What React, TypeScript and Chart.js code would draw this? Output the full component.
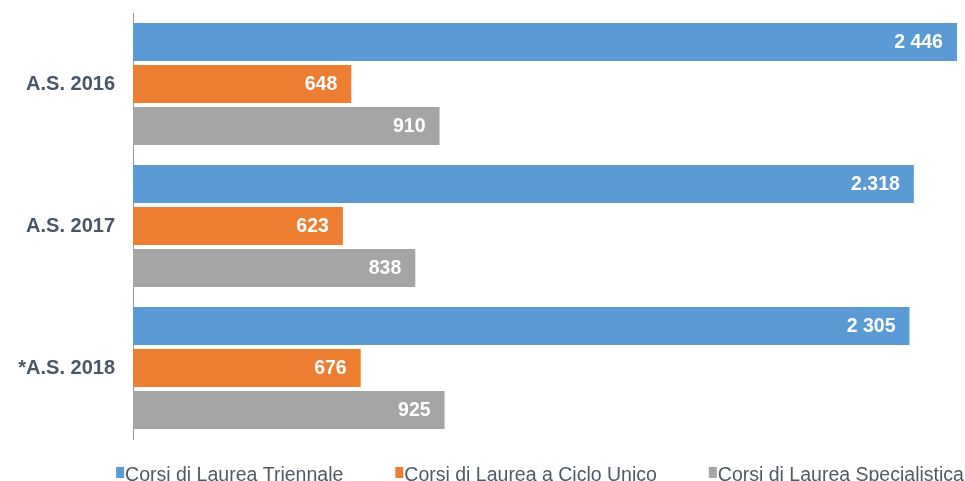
import React, { useEffect, useRef } from "react";
import { Chart, registerables } from "chart.js";

Chart.register(...registerables);

const categories = ["A.S. 2016", "A.S. 2017", "*A.S. 2018"];
const seriesNames = [
  "Corsi di Laurea Triennale",
  "Corsi di Laurea a Ciclo Unico",
  "Corsi di Laurea Specialistica",
];
const triennale = [2446, 2318, 2305];
const cicloUnico = [648, 623, 676];
const specialistica = [910, 838, 925];
const triennaleLabels = ["2 446", "2.318", "2 305"];
const cicloUnicoLabels = ["648", "623", "676"];
const specialisticaLabels = ["910", "838", "925"];
const colors = ["#5B9BD5", "#ED7D31", "#A5A5A5"];

const FONT = "'Liberation Sans', Arial, sans-serif";

const valueLabelPlugin = {
  id: "valueLabels",
  afterDatasetsDraw(chart: any) {
    const ctx = chart.ctx;
    ctx.save();
    ctx.font = `bold 19.5px ${FONT}`;
    ctx.fillStyle = "#ffffff";
    ctx.textAlign = "right";
    ctx.textBaseline = "middle";
    chart.data.datasets.forEach((ds: any, i: number) => {
      const meta = chart.getDatasetMeta(i);
      meta.data.forEach((bar: any, j: number) => {
        ctx.fillText(ds.valueLabels[j], bar.x - 14, bar.y + 1);
      });
    });
    ctx.restore();
  },
};

const legendPlugin = {
  id: "customLegend",
  afterDraw(chart: any) {
    const ctx = chart.ctx;
    ctx.save();
    ctx.font = `19.5px ${FONT}`;
    const boxW = 8;
    const boxGap = 1;
    const itemGap = 52;
    const items = chart.data.datasets.map((ds: any) => ({
      label: ds.label,
      color: ds.backgroundColor,
      w: boxW + boxGap + ctx.measureText(ds.label).width,
    }));
    const total = items.reduce((s: number, it: any) => s + it.w, 0) + itemGap * (items.length - 1);
    let x = 540 - total / 2;
    const baseY = 481;
    items.forEach((it: any) => {
      ctx.fillStyle = it.color;
      ctx.fillRect(x, 467, boxW, 11);
      ctx.fillStyle = "#505a66";
      ctx.textAlign = "left";
      ctx.textBaseline = "alphabetic";
      ctx.fillText(it.label, x + boxW + boxGap, baseY);
      x += it.w + itemGap;
    });
    ctx.restore();
  },
};

export default function App() {
  const ref = useRef<HTMLCanvasElement | null>(null);
  useEffect(() => {
    document.body.style.margin = "0";
    if (!ref.current) return;
    const chart = new Chart(ref.current, {
      type: "bar",
      data: {
        labels: categories,
        datasets: [
          { label: seriesNames[0], data: triennale, backgroundColor: colors[0], valueLabels: triennaleLabels } as any,
          { label: seriesNames[1], data: cicloUnico, backgroundColor: colors[1], valueLabels: cicloUnicoLabels } as any,
          { label: seriesNames[2], data: specialistica, backgroundColor: colors[2], valueLabels: specialisticaLabels } as any,
        ],
      },
      options: {
        indexAxis: "y",
        animation: false,
        responsive: false,
        maintainAspectRatio: false,
        categoryPercentage: 0.887,
        barPercentage: 0.905,
        layout: { padding: { top: 13, bottom: 42, right: 5, left: 0 } },
        plugins: { legend: { display: false }, tooltip: { enabled: false } },
        scales: {
          x: { display: false, min: 0, max: 2455 },
          y: {
            grid: { display: false, drawTicks: false },
            border: { display: true, color: "#9a9a9a", width: 1 },
            ticks: {
              padding: 18,
              color: "#4a5565",
              font: { family: FONT, size: 20, weight: "bold" },
            },
            afterFit(scale: any) {
              scale.width = 133;
              scale.paddingTop = 0;
              scale.paddingBottom = 0;
            },
          },
        },
      } as any,
      plugins: [valueLabelPlugin, legendPlugin],
    });
    return () => chart.destroy();
  }, []);
  return <canvas ref={ref} width={965} height={481} style={{ display: "block" }} />;
}
